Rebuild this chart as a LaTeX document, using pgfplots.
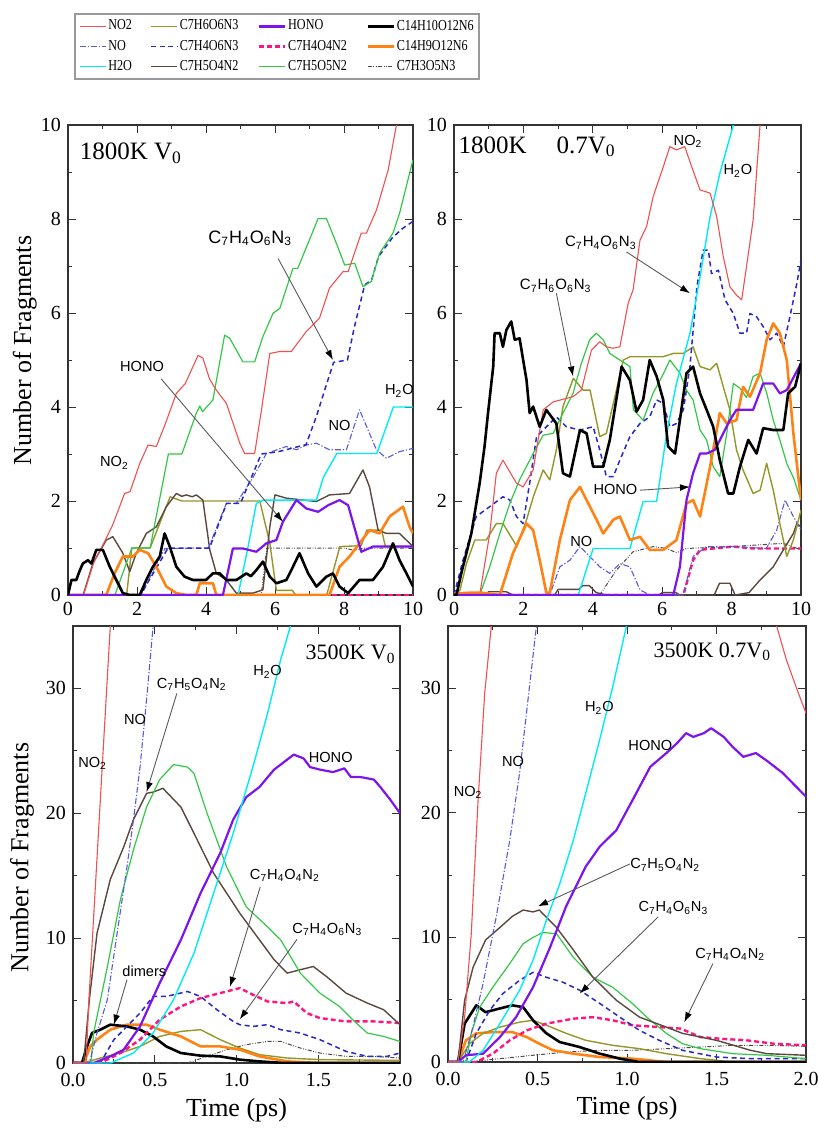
\documentclass[border=0pt]{standalone}
\usepackage{pgfplots}
\pgfplotsset{compat=1.18}
\usepackage{fontspec}
\setmainfont{Liberation Serif}
\newfontfamily\arial{Liberation Sans}
\newfontfamily\legfont[FakeStretch=0.8]{Liberation Serif}
\usetikzlibrary{arrows.meta}

\definecolor{cNO2}{RGB}{240,80,80}
\definecolor{cNO}{RGB}{90,90,220}
\definecolor{cH2O}{RGB}{0,235,245}
\definecolor{cA}{RGB}{150,150,40}
\definecolor{cB}{RGB}{40,40,200}
\definecolor{cC}{RGB}{90,72,62}
\definecolor{cHONO}{RGB}{125,20,235}
\definecolor{cD}{RGB}{255,20,130}
\definecolor{cE}{RGB}{50,200,70}
\definecolor{cG}{RGB}{255,130,20}
\definecolor{cH}{RGB}{80,70,70}

\pgfplotsset{
  sNO2/.style={color=cNO2, line width=0.55pt, solid},
  sNO/.style={color=cNO, line width=0.55pt, dash pattern=on 3pt off 1pt on 0.6pt off 1pt},
  sH2O/.style={color=cH2O, line width=0.7pt, solid},
  sA/.style={color=cA, line width=0.7pt, solid},
  sB/.style={color=cB, line width=0.75pt, dash pattern=on 2.5pt off 1.8pt},
  sC/.style={color=cC, line width=0.7pt, solid},
  sHONO/.style={color=cHONO, line width=1.1pt, solid},
  sD/.style={color=cD, line width=1.2pt, dash pattern=on 2.5pt off 1.5pt},
  sE/.style={color=cE, line width=0.6pt, solid},
  sF/.style={color=black, line width=1.3pt, solid},
  sG/.style={color=cG, line width=1.3pt, solid},
  sH/.style={color=cH, line width=0.5pt, dash pattern=on 2pt off 0.8pt on 0.4pt off 0.8pt on 0.4pt off 0.8pt},
  panel/.style={
    scale only axis, anchor=south west,
    axis line style={line width=0.6pt, black!80},
    tick style={black!80, line width=0.5pt},
    major tick length=4pt, minor tick length=2.2pt, tick align=inside,
    clip mode=individual,
    tick label style={font=\rmfamily\fontsize{10}{12}\selectfont},
    /pgf/number format/assume math mode=true,
    every axis plot/.append style={line join=round},
    label style={font=\rmfamily\fontsize{13}{15}\selectfont},
  },
  top/.style={panel, xmin=0, xmax=10, ymin=0, ymax=10,
    xtick={0,2,...,10}, ytick={0,2,...,10}, minor x tick num=1, minor y tick num=1},
  bot/.style={panel, xmin=0, xmax=2, ymin=0, ymax=35,
    xtick={0,0.5,...,2}, ytick={0,10,20,30}, minor x tick num=1, minor y tick num=1,
    xticklabel style={yshift=-1.5pt, /pgf/number format/.cd, fixed, fixed zerofill, precision=1},
    xlabel={Time (ps)}},
}
\tikzset{
  ann/.style={draw=gray!70!black, line width=0.45pt, -{Latex[length=5pt,width=3.4pt,color=black]}},
  lb/.style={font=\arial\fontsize{8}{9}\selectfont, inner sep=0pt, anchor=base west},
  ls/.style={font=\arial\fontsize{7.3}{8}\selectfont, inner sep=0pt, anchor=base west},
  tt/.style={font=\rmfamily\fontsize{12.5}{14}\selectfont, inner sep=0pt, anchor=base west},
}
\newcommand{\s}[1]{\textsubscript{#1}}

\begin{document}
\begin{tikzpicture}
\useasboundingbox (0,0) rectangle (409.5pt,-567.5pt);

% ---------- legend ----------
\begin{axis}[hide axis, scale only axis, width=10pt, height=10pt,
  at={(37pt,-6.5pt)}, anchor=north west, xmin=0, xmax=1, ymin=0, ymax=1,
  legend columns=4,
  legend image code/.code={\draw[#1] (0pt,0pt) -- (13pt,0pt);},
  legend style={at={(0,1)}, anchor=north west, draw=gray!80, line width=0.9pt,
    font=\legfont\fontsize{7.6}{8}\selectfont, row sep=1.5pt, inner sep=2pt,
    nodes={inner sep=1pt}, legend cell align=left}]
\addlegendimage{sNO2}\addlegendentry{\makebox[20pt][l]{NO2}}
\addlegendimage{sA}\addlegendentry{\makebox[38pt][l]{C7H6O6N3}}
\addlegendimage{sHONO}\addlegendentry{\makebox[38pt][l]{HONO}}
\addlegendimage{sF}\addlegendentry{\makebox[38pt][l]{C14H10O12N6}}
\addlegendimage{sNO}\addlegendentry{\makebox[20pt][l]{NO}}
\addlegendimage{sB}\addlegendentry{\makebox[38pt][l]{C7H4O6N3}}
\addlegendimage{sD}\addlegendentry{\makebox[38pt][l]{C7H4O4N2}}
\addlegendimage{sG}\addlegendentry{\makebox[38pt][l]{C14H9O12N6}}
\addlegendimage{sH2O}\addlegendentry{\makebox[20pt][l]{H2O}}
\addlegendimage{sC}\addlegendentry{\makebox[38pt][l]{C7H5O4N2}}
\addlegendimage{sE}\addlegendentry{\makebox[38pt][l]{C7H5O5N2}}
\addlegendimage{sH}\addlegendentry{\makebox[38pt][l]{C7H3O5N3}}
\end{axis}

% ---------- 1800K V0 ----------
\begin{axis}[top, at={(34pt,-297.5pt)}, width=172.5pt, height=235pt,
  ylabel={Number of Fragments},
  ylabel style={at={(axis description cs:-0.125,0.52)}, anchor=center}]
\addplot[sD] coordinates {(0,0) (10,0)};
\addplot[sH] coordinates {(0,0) (5.6,0) (5.76,1.0) (8.0,1.0) (8.3,0.95) (8.6,1.0) (10,1.0)};
\addplot[sA] coordinates {(0,0) (1.7,0) (1.85,1.0) (2.38,1.0) (2.96,2.09) (3.3,2.0) (5.56,2.0) (5.85,1.1) (6.04,0.1) (6.5,0.1) (6.6,0) (7.5,0) (7.88,1.03) (8.5,1.05) (8.66,1.38) (9.09,1.38) (9.2,1.03) (10,1.03)};
\addplot[sC] coordinates {(0,0) (0.44,0) (0.72,0.67) (1.11,1.17) (1.3,1.24) (1.59,0.89) (1.79,0.5) (1.98,0.89) (2.27,1.31) (2.56,1.45) (2.85,1.88) (3.14,2.16) (3.3,2.1) (3.43,2.13) (3.6,2.09) (3.72,2.13) (3.91,2.02) (4.11,0.96) (4.3,0.46) (4.59,0.32) (4.88,0.04) (5.36,0.04) (5.65,0.11) (5.85,1.45) (6.0,2.13) (6.33,2.06) (7.2,1.99) (7.58,2.13) (8.16,2.16) (8.55,2.66) (8.74,2.3) (8.99,1.38) (9.23,1.31) (9.61,1.31) (10,1.03)};
\addplot[sNO] coordinates {(0,0) (2.13,0) (2.43,0.46) (2.81,0.99) (4.07,1.0) (4.59,1.95) (4.88,1.95) (5.36,2.5) (5.75,3.01) (6.33,3.16) (6.62,3.09) (6.91,3.19) (7.2,3.23) (7.58,3.09) (8.07,3.09) (8.45,3.94) (8.94,3.09) (9.23,2.91) (9.61,3.05) (10,3.12)};
\addplot[sB] coordinates {(0,0) (2.1,0) (2.5,0.5) (2.9,1.0) (4.1,1.0) (4.6,1.95) (5.0,1.95) (5.6,3.0) (6.1,3.05) (6.9,3.2) (7.2,3.8) (7.5,4.5) (7.7,4.95) (8.1,5.0) (8.3,5.7) (8.6,6.6) (8.8,6.7) (9.0,7.2) (9.4,7.6) (9.7,7.8) (10,7.95)};
\addplot[sH2O] coordinates {(0,0) (4.93,0) (5.22,1.03) (5.46,1.95) (5.66,2.02) (7.2,2.02) (7.4,2.5) (7.79,3.01) (8.95,3.01) (9.43,4.0) (10,4.0)};
\addplot[sE] coordinates {(0,0) (1.36,0) (1.85,1.0) (2.38,1.0) (2.91,3.0) (3.3,3.0) (3.72,3.87) (3.82,4.02) (3.9,3.9) (4.2,4.15) (4.54,5.53) (4.69,5.46) (5.07,4.96) (5.41,4.96) (5.65,5.5) (5.94,5.99) (6.14,6.1) (6.52,6.95) (6.66,6.95) (7.25,8.01) (7.49,8.01) (7.78,7.48) (8.02,7.02) (8.31,7.06) (8.55,6.56) (8.79,6.67) (9.03,7.27) (9.42,7.7) (9.61,8.12) (10,9.26)};
\addplot[sNO2] coordinates {(0,0) (0.45,0) (0.75,0.7) (1.07,1.15) (1.3,1.5) (1.64,2.16) (1.8,2.2) (2.08,2.8) (2.32,3.19) (2.56,3.16) (2.8,3.6) (3.14,4.29) (3.4,4.5) (3.77,5.1) (3.91,5.04) (4.1,4.6) (4.3,4.36) (4.59,4.08) (4.98,3.23) (5.12,3.01) (5.41,3.01) (5.6,3.9) (5.85,5.14) (6.13,5.18) (6.47,5.18) (6.9,5.6) (7.29,5.89) (7.58,6.53) (7.97,6.88) (8.12,6.88) (8.5,7.7) (8.65,7.7) (8.94,8.19) (9.28,9.04) (9.52,10.0) (9.6,10.4)};
\addplot[sG] coordinates {(0,0) (1.11,0) (1.35,0.46) (1.59,0.82) (1.88,0.82) (2.08,0.96) (2.32,0.89) (2.56,0.6) (2.85,0.18) (3.14,0.04) (3.43,0) (3.72,0) (3.82,0.25) (4.2,0.25) (4.3,0) (7.58,0) (7.87,0.6) (8.16,0.82) (8.45,1.1) (8.74,1.38) (9.03,1.31) (9.32,1.67) (9.71,1.88) (9.9,1.45) (10,1.31)};
\addplot[sHONO] coordinates {(0,0) (4.49,0) (4.78,0.99) (5.07,0.99) (5.46,0.92) (5.75,1.1) (6.04,1.17) (6.23,1.56) (6.62,2.02) (6.91,1.84) (7.25,1.77) (7.54,1.91) (7.87,2.02) (8.12,1.91) (8.5,0.92) (8.84,1.03) (10,1.03)};
\addplot[sF] coordinates {(0,0) (0.1,0.32) (0.24,0.32) (0.33,0.5) (0.43,0.67) (0.58,0.74) (0.68,0.67) (0.82,0.96) (1.01,0.96) (1.1,0.8) (1.21,0.6) (1.4,0.32) (1.59,0.04) (1.79,0) (2.08,0) (2.27,0.32) (2.46,0.6) (2.66,0.82) (2.8,1.31) (2.95,1.03) (3.14,0.6) (3.38,0.39) (3.62,0.32) (4.0,0.32) (4.2,0.46) (4.4,0.46) (4.59,0.32) (4.88,0.32) (5.17,0.46) (5.3,0.4) (5.46,0.53) (5.65,0.71) (5.85,0.39) (6.04,0.25) (6.33,0.32) (6.52,0.6) (6.71,0.89) (6.96,0.46) (7.2,0.18) (7.49,0.39) (7.68,0.46) (7.87,0.18) (8.12,0.04) (8.45,0.32) (8.84,0.32) (9.13,0.6) (9.42,1.1) (9.61,0.74) (9.81,0.46) (10,0.18)};
\node[tt] at (0.33,9.26) {1800K V\s{0}};
\node[lb, font=\arial\fontsize{9}{10}\selectfont] at (4.06,7.48) {C\s{7}H\s{4}O\s{6}N\s{3}};
\draw[ann] (6.09,7.16) -- (7.68,5.0);
\node[ls] at (1.5,4.75) {HONO};
\draw[ann] (2.7,4.6) -- (6.23,1.56);
\node[ls] at (0.92,2.73) {NO\s{2}};
\node[ls] at (7.54,3.51) {NO};
\node[ls] at (9.18,4.26) {H\s{2}O};
\end{axis}

% ---------- 1800K 0.7V0 ----------
\begin{axis}[top, at={(227pt,-297.5pt)}, width=173.5pt, height=235pt]
\addplot[sD] coordinates {(0,0) (6.61,0) (6.89,0.74) (7.09,0.96) (7.47,0.99) (8.05,1.03) (8.62,0.99) (10,0.99)};
\addplot[sH] coordinates {(0,0) (4.2,0) (4.68,0.53) (5.16,0.92) (5.74,1.03) (6.13,0.99) (6.41,0.9) (6.7,0.99) (8,1.03) (9.49,1.1) (10,0.96)};
\addplot[sC] coordinates {(0,0) (0.9,0) (1.0,0.07) (1.5,0.07) (1.7,0) (2.9,0) (3.0,0.12) (3.6,0.12) (3.7,0.2) (3.9,0.2) (4.1,0.05) (4.4,0) (5.9,0) (6.0,0.05) (6.4,0.05) (6.5,0) (7.5,0) (7.65,0.25) (7.95,0.25) (8.1,0) (8.5,0.05) (8.82,0.32) (9.2,0.6) (9.49,0.96) (9.78,1.31) (9.88,1.52) (10,1.45)};
\addplot[sNO] coordinates {(0,0) (2.76,0) (3.05,0.6) (3.34,0.74) (3.63,1.03) (3.91,0.82) (4.2,0.6) (4.49,0.46) (4.78,0.67) (5.07,0.6) (5.36,0.11) (5.64,0) (6.6,0) (6.89,0.82) (7.28,1.03) (8.05,1.03) (9.0,0.99) (9.3,1.38) (9.54,2.02) (9.78,1.67) (10,1.38)};
\addplot[sA] coordinates {(0,0) (0.17,0.1) (0.36,0.67) (0.6,1.17) (0.93,1.17) (1.22,1.52) (1.41,1.52) (1.7,1.17) (1.81,1.03) (2.09,1.6) (2.29,2.1) (2.57,2.66) (2.76,2.45) (2.95,3.09) (3.14,4.01) (3.44,4.61) (3.72,4.36) (3.92,4.36) (4.2,3.37) (4.39,3.44) (4.68,4.36) (4.88,5.0) (5.07,5.07) (5.55,5.07) (6.03,5.07) (6.32,5.14) (6.61,5.14) (6.89,5.28) (7.09,4.86) (7.38,4.79) (7.57,4.93) (7.76,4.43) (7.95,3.94) (8.14,3.09) (8.33,2.66) (8.62,2.16) (8.82,2.23) (9.01,2.8) (9.2,2.23) (9.39,1.52) (9.59,0.82) (9.78,1.17) (10,1.81)};
\addplot[sB] coordinates {(0,0) (0.26,0.74) (0.64,1.67) (1.03,1.88) (1.41,2.09) (1.61,2.02) (1.8,1.67) (1.99,1.52) (2.18,2.38) (2.38,3.37) (2.57,3.51) (2.95,3.79) (3.24,3.58) (3.63,3.51) (4.01,3.58) (4.2,3.09) (4.39,2.52) (4.59,2.52) (4.78,2.87) (5.07,3.37) (5.36,3.65) (5.64,3.79) (5.84,4.15) (6.03,4.08) (6.22,3.58) (6.41,3.65) (6.61,3.94) (6.8,4.86) (7.0,6.56) (7.18,7.34) (7.33,7.34) (7.42,6.84) (7.62,6.91) (7.81,6.28) (8.05,5.99) (8.24,5.57) (8.43,5.57) (8.53,5.99) (8.72,5.92) (8.91,5.71) (9.11,5.43) (9.3,5.57) (9.49,5.28) (9.68,5.92) (9.88,6.63) (10,7.13)};
\addplot[sE] coordinates {(0,0) (0.74,0) (1.03,0.6) (1.32,1.31) (1.61,1.95) (1.89,2.45) (2.28,3.01) (2.57,3.4) (2.86,3.44) (3.14,3.87) (3.43,4.29) (3.67,4.93) (3.91,5.43) (4.1,5.57) (4.3,5.43) (4.49,5.14) (4.78,5.0) (5.07,4.86) (5.17,3.94) (5.45,3.72) (5.74,4.3) (6.03,4.7) (6.22,5.0) (6.51,4.72) (6.7,4.36) (6.89,4.15) (7.09,3.51) (7.28,3.3) (7.47,2.73) (7.66,2.52) (7.86,3.44) (8.05,4.5) (8.24,4.4) (8.43,4.2) (8.62,4.65) (8.82,4.72) (9.01,4.3) (9.2,3.72) (9.39,3.3) (9.59,2.8) (9.78,2.5) (10,2.02)};
\addplot[sH2O] coordinates {(0,0) (3.58,0) (4.01,0.99) (5.07,0.99) (5.45,1.99) (5.84,1.99) (6.13,3.44) (6.41,4.5) (6.8,5.57) (7.09,6.77) (7.38,8.05) (7.66,8.97) (8.05,10) (8.1,10.3)};
\addplot[sNO2] coordinates {(0,0) (0.74,0) (1.03,1.31) (1.22,2.59) (1.41,2.87) (1.8,2.38) (1.99,2.3) (2.28,2.66) (2.57,3.94) (2.86,4.11) (3.43,4.22) (3.67,4.36) (3.96,5.21) (4.2,5.39) (4.39,5.28) (4.58,5.25) (4.78,5.28) (5.02,6.21) (5.16,6.49) (5.36,7.55) (5.55,7.84) (5.74,8.48) (6.03,9.11) (6.22,9.54) (6.41,9.47) (6.65,9.54) (6.85,9.11) (7.09,8.62) (7.38,8.55) (7.57,8.05) (7.76,7.2) (7.95,6.56) (8.14,6.38) (8.29,6.28) (8.43,6.99) (8.62,7.98) (8.82,10) (8.85,10.3)};
\addplot[sG] coordinates {(0,0.03) (0.5,0.05) (0.8,0.05) (1.32,0) (1.7,0.89) (2.09,1.52) (2.28,1.38) (2.47,0.74) (2.66,0.05) (2.76,0.05) (3.05,1.17) (3.34,2.02) (3.63,2.3) (3.82,2.02) (4.11,1.6) (4.3,1.31) (4.59,1.6) (4.78,1.67) (5.07,1.17) (5.36,1.24) (5.64,0.96) (6.03,0.96) (6.41,1.17) (6.7,1.95) (6.89,2.02) (7.09,1.67) (7.38,2.73) (7.66,3.87) (7.86,3.65) (8.14,3.72) (8.33,4.43) (8.53,4.22) (8.82,4.72) (9.01,5.43) (9.2,5.78) (9.39,5.57) (9.59,5.0) (9.78,3.44) (10,2.02)};
\addplot[sHONO] coordinates {(0,0) (6.32,0) (6.51,0.6) (6.7,2.02) (6.89,2.59) (7.09,3.01) (7.28,3.01) (7.52,3.09) (7.76,3.44) (7.95,3.72) (8.14,3.94) (8.33,3.94) (8.62,3.94) (8.91,4.5) (9.2,4.5) (9.39,4.29) (9.59,4.36) (10,4.93)};
\addplot[sF] coordinates {(0,0) (0.07,0) (0.21,0.46) (0.5,1.31) (0.74,2.38) (0.88,3.16) (0.98,3.87) (1.13,4.86) (1.17,5.57) (1.32,5.57) (1.41,5.28) (1.51,5.64) (1.65,5.82) (1.75,5.43) (1.89,5.46) (2.09,4.57) (2.18,3.87) (2.28,4.01) (2.47,3.58) (2.66,3.94) (2.95,3.65) (3.14,2.59) (3.34,2.52) (3.63,3.51) (3.82,3.44) (4.01,2.73) (4.3,2.73) (4.49,3.3) (4.83,4.86) (5.07,4.57) (5.26,3.9) (5.45,4.15) (5.64,5.0) (5.84,4.65) (6.03,4.15) (6.17,3.16) (6.37,3.01) (6.51,3.72) (6.7,4.72) (6.89,4.86) (7.09,4.29) (7.28,3.94) (7.47,3.58) (7.66,2.87) (7.9,2.16) (8.05,2.16) (8.24,2.73) (8.48,3.3) (8.72,3.01) (8.91,3.55) (9.2,3.51) (9.49,3.51) (9.63,4.29) (9.83,4.43) (10,4.93)};
\node[tt] at (0.12,9.4) {1800K\hspace{15pt}0.7V\s{0}};
\node[ls] at (6.32,9.57) {NO\s{2}};
\node[ls] at (7.76,8.94) {H\s{2}O};
\node[lb, font=\arial\fontsize{7.5}{9}\selectfont] at (3.19,7.41) {C\s{7}H\s{4}O\s{6}N\s{3}};
\draw[ann] (4.97,7.3) -- (6.8,6.42);
\node[lb, font=\arial\fontsize{7.5}{9}\selectfont] at (1.89,6.49) {C\s{7}H\s{6}O\s{6}N\s{3}};
\draw[ann] (2.95,6.42) -- (3.43,4.65);
\node[ls] at (4.01,2.13) {HONO};
\draw[ann] (5.36,2.23) -- (6.8,2.3);
\node[ls] at (3.34,1.03) {NO};
\end{axis}

% ---------- 3500K V0 ----------
\begin{axis}[bot, at={(36.5pt,-531.5pt)}, width=163.5pt, height=218.5pt,
  ylabel={Number of Fragments},
  ylabel style={at={(axis description cs:-0.156,0.47)}, anchor=center},
  xlabel style={at={(axis description cs:0.5,-0.1075)}, anchor=center}]
\addplot[sH] coordinates {(0,0) (0.7,0) (0.82,0.53) (0.94,1.07) (1.06,1.47) (1.19,1.73) (1.27,1.73) (1.39,1.2) (1.51,0.8) (1.67,0.53) (1.84,0.53) (2.0,0.4)};
\addplot[sA] coordinates {(0,0) (0.065,0) (0.167,0.4) (0.29,0.8) (0.41,1.33) (0.53,2.13) (0.66,2.53) (0.78,2.67) (0.9,1.87) (1.02,1.2) (1.14,0.67) (1.31,0.4) (1.51,0.27) (2.0,0.21)};
\addplot[sG] coordinates {(0,0) (0.065,0) (0.106,1.33) (0.147,1.87) (0.228,2.67) (0.33,3.07) (0.45,3.07) (0.53,2.67) (0.66,2.13) (0.78,1.33) (0.9,1.33) (1.02,1.07) (1.14,0.53) (1.31,0.13) (1.51,0) (2.0,0)};
\addplot[sF] coordinates {(0,0) (0.055,0) (0.086,1.33) (0.116,2.4) (0.167,2.67) (0.228,3.07) (0.33,2.93) (0.41,2.67) (0.49,2.13) (0.57,1.33) (0.66,0.8) (0.78,0.59) (0.9,0.53) (1.02,0.27) (1.14,0.13) (1.29,0) (2.0,0)};
\addplot[sB] coordinates {(0,0) (0.167,0) (0.25,1.87) (0.33,2.93) (0.41,4.0) (0.49,5.33) (0.57,5.33) (0.7,5.73) (0.78,5.33) (0.88,4.27) (0.98,3.33) (1.02,3.07) (1.1,2.93) (1.19,3.07) (1.27,2.67) (1.39,2.4) (1.51,1.87) (1.67,0.93) (1.8,0.53) (1.92,0.53) (2.0,0.8)};
\addplot[sD] coordinates {(0,0) (0.167,0) (0.29,0.8) (0.41,1.87) (0.53,3.47) (0.66,4.53) (0.78,5.2) (0.9,5.6) (1.02,6.0) (1.1,5.47) (1.19,4.93) (1.31,4.8) (1.35,4.93) (1.43,4.0) (1.51,3.6) (1.67,3.33) (1.84,3.33) (2.0,3.2)};
\addplot[sC] coordinates {(0,0) (0.065,0) (0.1,5.07) (0.147,10.4) (0.228,14.7) (0.31,17.3) (0.37,19.5) (0.45,21.6) (0.49,21.7) (0.55,22.0) (0.66,20.5) (0.74,18.4) (0.86,15.2) (1.02,12.0) (1.14,9.87) (1.23,8.27) (1.31,7.2) (1.39,7.47) (1.47,7.73) (1.55,6.93) (1.67,5.6) (1.8,4.8) (1.9,4.27) (2.0,3.07)};
\addplot[sE] coordinates {(0,0) (0.11,0) (0.126,2.4) (0.21,7.7) (0.29,13.1) (0.37,17.1) (0.45,20.5) (0.53,22.7) (0.615,23.9) (0.7,23.7) (0.74,23.2) (0.82,20.0) (0.94,15.7) (1.06,12.5) (1.19,10.9) (1.27,9.87) (1.39,7.2) (1.51,5.6) (1.63,4.53) (1.71,3.47) (1.8,2.4) (1.9,2.13) (2.0,1.73)};
\addplot[sHONO] coordinates {(0,0) (0.126,0) (0.228,0.53) (0.31,1.07) (0.41,2.93) (0.53,6.4) (0.66,9.87) (0.78,13.6) (0.9,16.8) (0.98,19.5) (1.06,21.3) (1.14,22.1) (1.23,23.5) (1.31,24.3) (1.35,24.7) (1.41,24.4) (1.45,23.7) (1.51,23.5) (1.59,23.3) (1.66,23.6) (1.7,22.9) (1.76,22.9) (1.84,22.7) (1.88,22.1) (1.94,21.1) (2.0,20.0)};
\addplot[sH2O] coordinates {(0,0) (0.23,0) (0.37,0.8) (0.49,2.4) (0.615,5.07) (0.74,8.8) (0.86,13.6) (0.98,18.4) (1.1,23.7) (1.19,28) (1.27,32.3) (1.33,35) (1.35,36)};
\addplot[sNO] coordinates {(0,0) (0.1,0) (0.147,2.4) (0.21,5.07) (0.27,10.4) (0.33,15.7) (0.37,19.5) (0.41,23.7) (0.45,29.1) (0.49,35) (0.5,37)};
\addplot[sNO2] coordinates {(0,0) (0.08,0) (0.097,5) (0.228,35) (0.24,38)};
\node[tt, font=\rmfamily\fontsize{11}{13}\selectfont] at (1.42,32.3) {3500K V\s{0}};
\node[ls] at (1.1,31.0) {H\s{2}O};
\node[lb, font=\arial\fontsize{7.3}{9}\selectfont] at (0.51,30.0) {C\s{7}H\s{5}O\s{4}N\s{2}};
\draw[ann] (0.635,29.6) -- (0.45,21.7);
\node[ls] at (0.31,27.1) {NO};
\node[ls] at (0.03,23.7) {NO\s{2}};
\node[ls] at (1.44,24.1) {HONO};
\node[lb, font=\arial\fontsize{7.3}{9}\selectfont] at (1.08,14.7) {C\s{7}H\s{4}O\s{4}N\s{2}};
\draw[ann] (1.145,14.1) -- (0.96,6.1);
\node[lb, font=\arial\fontsize{7.3}{9}\selectfont] at (1.34,10.4) {C\s{7}H\s{4}O\s{6}N\s{3}};
\draw[ann] (1.37,9.9) -- (1.02,3.5);
\node[ls] at (0.3,6.9) {dimers};
\draw[ann] (0.33,6.67) -- (0.25,3.07);
\end{axis}

% ---------- 3500K 0.7V0 ----------
\begin{axis}[bot, at={(224pt,-531pt)}, width=179pt, height=218pt,
  xlabel style={at={(axis description cs:0.5,-0.105)}, anchor=center}]
\addplot[sH] coordinates {(0,0) (0.1,0) (0.29,0.27) (0.475,0.54) (0.66,0.8) (0.848,0.94) (1.03,0.94) (1.22,1.07) (1.41,1.2) (1.59,1.34) (1.78,1.34) (2.0,1.26)};
\addplot[sG] coordinates {(0,0) (0.056,0) (0.1,1.74) (0.158,2.3) (0.25,2.4) (0.36,2.4) (0.44,2.0) (0.51,1.47) (0.587,0.94) (0.7,0.67) (0.848,0.4) (1.03,0.27) (1.22,0) (2.0,0)};
\addplot[sA] coordinates {(0,0) (0.056,0) (0.12,1.47) (0.196,2.3) (0.29,2.8) (0.4,3.2) (0.475,3.35) (0.55,2.95) (0.66,2.3) (0.77,1.74) (0.92,1.34) (1.07,1.07) (1.22,0.67) (1.41,0.27) (1.59,0) (2.0,0)};
\addplot[sF] coordinates {(0,0) (0.056,0) (0.093,3.08) (0.158,4.55) (0.21,4.0) (0.29,4.3) (0.36,4.55) (0.42,4.4) (0.475,3.35) (0.55,2.3) (0.624,1.6) (0.736,1.2) (0.848,0.67) (0.96,0.27) (1.07,0) (2.0,0)};
\addplot[sD] coordinates {(0,0) (0.158,0) (0.25,0.67) (0.345,1.74) (0.44,2.54) (0.55,3.08) (0.7,3.48) (0.81,3.6) (0.92,3.35) (1.03,2.95) (1.18,2.8) (1.3,2.68) (1.41,2.0) (1.52,1.87) (1.67,1.74) (1.82,1.47) (2.0,1.34)};
\addplot[sB] coordinates {(0,0) (0.1,0) (0.158,2.3) (0.233,4.15) (0.307,5.5) (0.4,6.56) (0.475,7.2) (0.55,6.8) (0.643,6.4) (0.736,5.76) (0.848,4.7) (0.96,3.6) (1.07,2.54) (1.18,1.74) (1.31,0.94) (1.5,0.4) (1.69,0.27) (2.0,0.27)};
\addplot[sE] coordinates {(0,0) (0.1,0) (0.13,2.3) (0.177,4.4) (0.25,6.0) (0.345,7.9) (0.42,9.5) (0.475,10.0) (0.53,10.4) (0.606,10.3) (0.7,8.4) (0.81,6.8) (0.92,6.0) (1.03,4.7) (1.11,3.6) (1.22,2.3) (1.31,1.47) (1.41,1.07) (1.59,0.67) (1.78,0.54) (2.0,0.27)};
\addplot[sC] coordinates {(0,0) (0.056,0) (0.093,4.96) (0.14,7.6) (0.21,9.8) (0.29,10.8) (0.36,11.7) (0.42,12.2) (0.475,12.05) (0.51,12.2) (0.606,10.8) (0.7,9.0) (0.81,6.8) (0.94,4.96) (1.07,3.6) (1.22,2.8) (1.31,2.3) (1.5,1.74) (1.69,0.94) (1.78,0.67) (2.0,0.54)};
\addplot[sHONO] coordinates {(0,0) (0.056,0) (0.1,0.54) (0.196,0.67) (0.29,2.0) (0.38,3.6) (0.475,6.0) (0.57,9.2) (0.66,12.5) (0.77,15.7) (0.848,17.3) (0.94,18.6) (1.03,21.0) (1.13,23.7) (1.22,24.8) (1.28,25.6) (1.33,26.4) (1.37,26.1) (1.43,26.4) (1.47,26.8) (1.54,26.1) (1.59,25.3) (1.65,24.5) (1.72,24.8) (1.78,24.2) (1.87,23.2) (2.0,21.3)};
\addplot[sH2O] coordinates {(0,0) (0.12,0) (0.196,0.94) (0.29,3.08) (0.4,5.76) (0.475,8.17) (0.55,11.4) (0.624,14.3) (0.7,17.8) (0.77,21.6) (0.848,25.9) (0.92,30.1) (0.997,35) (1.01,36)};
\addplot[sNO] coordinates {(0,0) (0.084,0) (0.13,2.3) (0.196,6.3) (0.27,11.7) (0.345,17.8) (0.4,23.2) (0.447,29.1) (0.494,35) (0.5,36)};
\addplot[sNO2] coordinates {(0,0) (0.056,0) (0.093,3.6) (0.13,10.3) (0.168,21.0) (0.205,29.6) (0.242,35) (0.26,38) (1.0,60) (1.8,38) (1.836,35) (1.89,32.3) (1.95,29.9) (2.0,28.0)};
\node[tt, font=\rmfamily\fontsize{11}{13}\selectfont] at (1.146,32.5) {3500K 0.7V\s{0}};
\node[ls] at (0.764,28.1) {H\s{2}O};
\node[ls] at (1.006,25.0) {HONO};
\node[ls] at (0.3,23.7) {NO};
\node[ls] at (0.03,21.3) {NO\s{2}};
\node[lb, font=\arial\fontsize{7.3}{9}\selectfont] at (1.016,15.5) {C\s{7}H\s{5}O\s{4}N\s{2}};
\draw[ann] (1.016,15.9) -- (0.503,12.5);
\node[lb, font=\arial\fontsize{7.3}{9}\selectfont] at (1.062,12.05) {C\s{7}H\s{4}O\s{6}N\s{3}};
\draw[ann] (1.174,11.65) -- (0.736,5.5);
\node[lb, font=\arial\fontsize{7.3}{9}\selectfont] at (1.38,8.3) {C\s{7}H\s{4}O\s{4}N\s{2}};
\draw[ann] (1.48,7.9) -- (1.32,3.2);
\end{axis}
\end{tikzpicture}
\end{document}
